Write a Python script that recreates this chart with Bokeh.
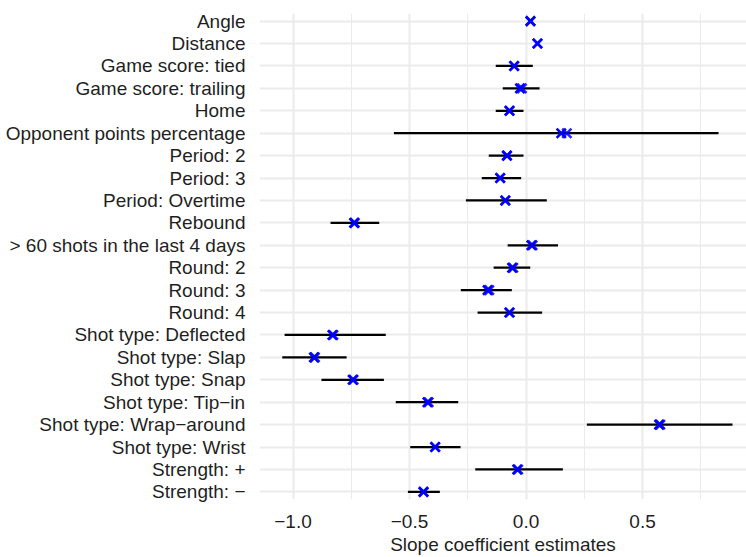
from bokeh.plotting import figure
from bokeh.models import FactorRange, Range1d, FixedTicker, ColumnDataSource
from bokeh.embed import file_html
from bokeh.resources import INLINE

labels = ["Angle", "Distance", "Game score: tied", "Game score: trailing", "Home",
          "Opponent points percentage", "Period: 2", "Period: 3", "Period: Overtime",
          "Rebound", "> 60 shots in the last 4 days", "Round: 2", "Round: 3", "Round: 4",
          "Shot type: Deflected", "Shot type: Slap", "Shot type: Snap", "Shot type: Tip\u2212in",
          "Shot type: Wrap\u2212around", "Shot type: Wrist", "Strength: +", "Strength: \u2212"]

est_a = [0.019, 0.049, -0.051, -0.026, -0.071, 0.151, -0.082, -0.111, -0.089, -0.738,
         0.023, -0.060, -0.165, -0.071, -0.831, -0.910, -0.744, -0.423, 0.571, -0.390,
         -0.038, -0.440]
est_b = [0.019, 0.049, -0.051, -0.018, -0.071, 0.175, -0.082, -0.111, -0.089, -0.735,
         0.028, -0.055, -0.158, -0.071, -0.827, -0.906, -0.740, -0.418, 0.576, -0.390,
         -0.034, -0.440]
lower = [0.012, 0.042, -0.130, -0.100, -0.130, -0.567, -0.160, -0.190, -0.258, -0.839,
         -0.079, -0.139, -0.280, -0.208, -1.036, -1.046, -0.878, -0.559, 0.261, -0.497,
         -0.218, -0.507]
upper = [0.026, 0.056, 0.029, 0.058, -0.011, 0.826, -0.011, -0.021, 0.089, -0.630,
         0.137, 0.018, -0.061, 0.069, -0.602, -0.770, -0.610, -0.291, 0.886, -0.281,
         0.158, -0.370]

x_ticks = [-1.0, -0.5, 0.0, 0.5]
x_tick_labels = ["\u22121.0", "\u22120.5", "0.0", "0.5"]
x_minor = [-0.75, -0.25, 0.25, 0.75]
x_title = "Slope coefficient estimates"

src = ColumnDataSource(dict(label=labels, est_a=est_a, est_b=est_b, lo=lower, hi=upper))

FONT = "Liberation Sans"
TXT = "#1f1f1f"
GRID = "#EBEBEB"

p = figure(width=746, height=557, output_backend="svg", toolbar_location=None,
           y_range=FactorRange(factors=labels[::-1], range_padding=-0.16,
                               range_padding_units="absolute"),
           x_range=Range1d(-1.1438, 0.946),
           min_border_left=259, min_border_right=0, min_border_top=13,
           min_border_bottom=55)
p.outline_line_color = None
p.background_fill_color = "white"
p.border_fill_color = "white"

p.segment(x0="lo", y0="label", x1="hi", y1="label", source=src,
          line_color="black", line_width=2.3)
p.scatter(x="est_a", y="label", marker="x", size=13, line_width=2.6,
          line_color="#0000FF", source=src)
p.scatter(x="est_b", y="label", marker="x", size=13, line_width=2.6,
          line_color="#0000FF", line_alpha=0.85, source=src)

ticker = FixedTicker(ticks=x_ticks, minor_ticks=x_minor)
p.xaxis.ticker = ticker
p.xaxis.major_label_overrides = {t: l for t, l in zip(x_ticks, x_tick_labels)}
p.xgrid.ticker = ticker
p.xgrid.grid_line_color = GRID
p.xgrid.grid_line_width = 2
p.xgrid.minor_grid_line_color = GRID
p.xgrid.minor_grid_line_width = 1
p.ygrid.grid_line_color = GRID
p.ygrid.grid_line_width = 2

for ax in (p.xaxis, p.yaxis):
    ax.axis_line_color = None
    ax.major_tick_line_color = None
    ax.minor_tick_line_color = None
    ax.major_tick_out = 0
    ax.major_tick_in = 0
    ax.minor_tick_out = 0
    ax.minor_tick_in = 0
    ax.major_label_text_font = FONT
    ax.major_label_text_font_size = "19px"
    ax.major_label_text_color = TXT

p.yaxis.major_label_standoff = 14
p.xaxis.major_label_standoff = 15
p.xaxis.axis_label = x_title
p.xaxis.axis_label_standoff = 3
p.xaxis.axis_label_text_font = FONT
p.xaxis.axis_label_text_font_size = "19px"
p.xaxis.axis_label_text_font_style = "normal"
p.xaxis.axis_label_text_color = TXT

open("out.html", "w").write(file_html(p, INLINE))
